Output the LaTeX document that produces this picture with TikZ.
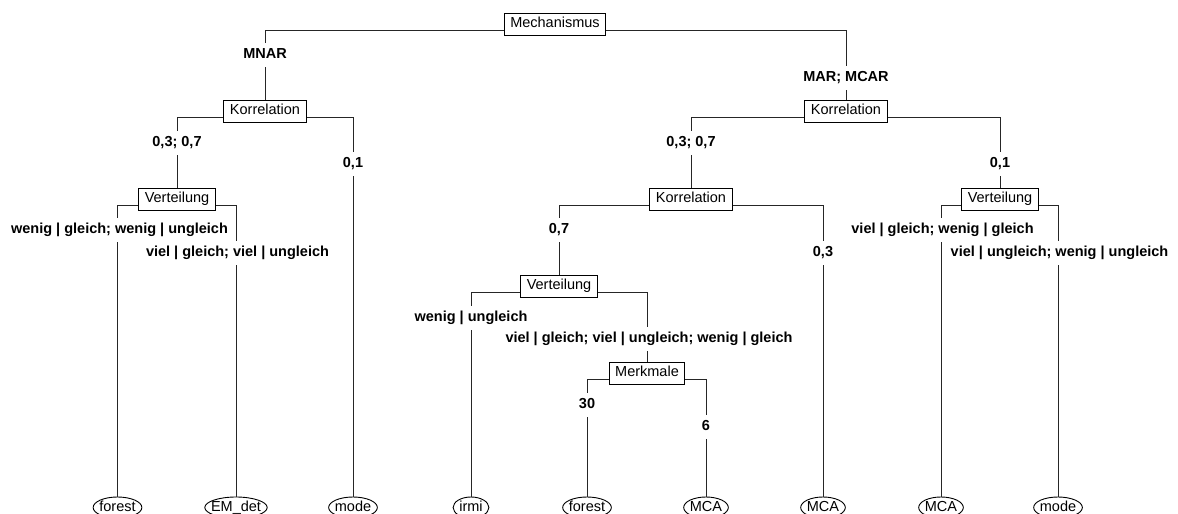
\documentclass[tikz,border=0pt]{standalone}
\usepackage{fontspec}
\setmainfont{Liberation Sans}
\usetikzlibrary{calc}
\begin{document}
\begin{tikzpicture}[x=1pt,y=-1pt,
  txt/.style={font=\fontsize{14.5}{17}\selectfont, text height=10.5pt, text depth=3pt},
  box/.style={txt, draw, line width=1pt, rectangle, inner xsep=6pt, inner ysep=0pt, minimum height=22pt},
  leaf/.style={txt, inner xsep=0pt, inner ysep=3.75pt},
  lbl/.style={txt, font=\fontsize{14.5}{17}\selectfont\bfseries, fill=white, inner xsep=2pt, inner ysep=5pt},
  edge/.style={line width=0.9pt, black!85},
  oval/.style={line width=0.9pt, black}]
\useasboundingbox (0,0) rectangle (1178,514);
\clip (0,0) rectangle (1178,514);
% boxes
\node[box] (m)  at (555,24)  {Mechanismus};
\node[box] (kL) at (265,111) {Korrelation};
\node[box] (kR) at (846,111) {Korrelation};
\node[box] (vL) at (177,199) {Verteilung};
\node[box] (kM) at (691,199) {Korrelation};
\node[box] (vR) at (1000,199) {Verteilung};
\node[box] (vM) at (559,286) {Verteilung};
\node[box] (mm) at (647,373) {Merkmale};
% leaves
\node[leaf] (f1)  at (117.5,507.5) {forest};
\node[leaf] (e1)  at (236,507.5)   {EM\_det};
\node[leaf] (mo1) at (353,507.5)   {mode};
\node[leaf] (ir)  at (471,507.5)   {irmi};
\node[leaf] (f2)  at (587,507.5)   {forest};
\node[leaf] (mc1) at (706,507.5)   {MCA};
\node[leaf] (mc2) at (823,507.5)   {MCA};
\node[leaf] (mc3) at (941,507.5)   {MCA};
\node[leaf] (mo2) at (1058,507.5)  {mode};
\foreach \lf in {f1,e1,mo1,ir,f2,mc1,mc2,mc3,mo2}
  \draw[oval] let \p1=(\lf.west), \p2=(\lf.east) in (\lf.center) ellipse ({0.5*\x2-0.5*\x1+6pt} and 10.5pt);
% edges
\draw[edge] ([yshift=-6pt]m.west)  -| (kL.north);
\draw[edge] ([yshift=-6pt]m.east)  -| (kR.north);
\draw[edge] ([yshift=-6pt]kL.west) -| (vL.north);
\draw[edge] ([yshift=-6pt]kL.east) -| (mo1.north);
\draw[edge] ([yshift=-6pt]vL.west) -| (f1.north);
\draw[edge] ([yshift=-6pt]vL.east) -| (e1.north);
\draw[edge] ([yshift=-6pt]kR.west) -| (kM.north);
\draw[edge] ([yshift=-6pt]kR.east) -| (vR.north);
\draw[edge] ([yshift=-6pt]kM.west) -| (vM.north);
\draw[edge] ([yshift=-6pt]kM.east) -| (mc2.north);
\draw[edge] ([yshift=-6pt]vM.west) -| (ir.north);
\draw[edge] ([yshift=-6pt]vM.east) -| (mm.north);
\draw[edge] ([yshift=-6pt]mm.west) -| (f2.north);
\draw[edge] ([yshift=-6pt]mm.east) -| (mc1.north);
\draw[edge] ([yshift=-6pt]vR.west) -| (mc3.north);
\draw[edge] ([yshift=-6pt]vR.east) -| (mo2.north);
% labels
\node[lbl] (t1)  at (265,55)    {MNAR};
\node[lbl] (t2)  at (846,78)    {MAR; MCAR};
\node[lbl] (t3)  at (177,143)   {0,3; 0,7};
\node[lbl] (t4)  at (353,164)   {0,1};
\node[lbl] (t5)  at (119.5,230) {wenig | gleich; wenig | ungleich};
\node[lbl] (t6)  at (237.5,253) {viel | gleich; viel | ungleich};
\node[lbl] (t7)  at (691,143)   {0,3; 0,7};
\node[lbl] (t8)  at (1000,164)  {0,1};
\node[lbl] (t9)  at (559,230)   {0,7};
\node[lbl] (t10) at (823,253)   {0,3};
\node[lbl] (t11) at (942.5,230) {viel | gleich; wenig | gleich};
\node[lbl] (t12) at (1059.5,253) {viel | ungleich; wenig | ungleich};
\node[lbl] (t13) at (471,318)   {wenig | ungleich};
\node[lbl] (t14) at (649,339)   {viel | gleich; viel | ungleich; wenig | gleich};
\node[lbl] (t15) at (587,405)   {30};
\node[lbl] (t16) at (706,427)   {6};
\end{tikzpicture}
\end{document}
